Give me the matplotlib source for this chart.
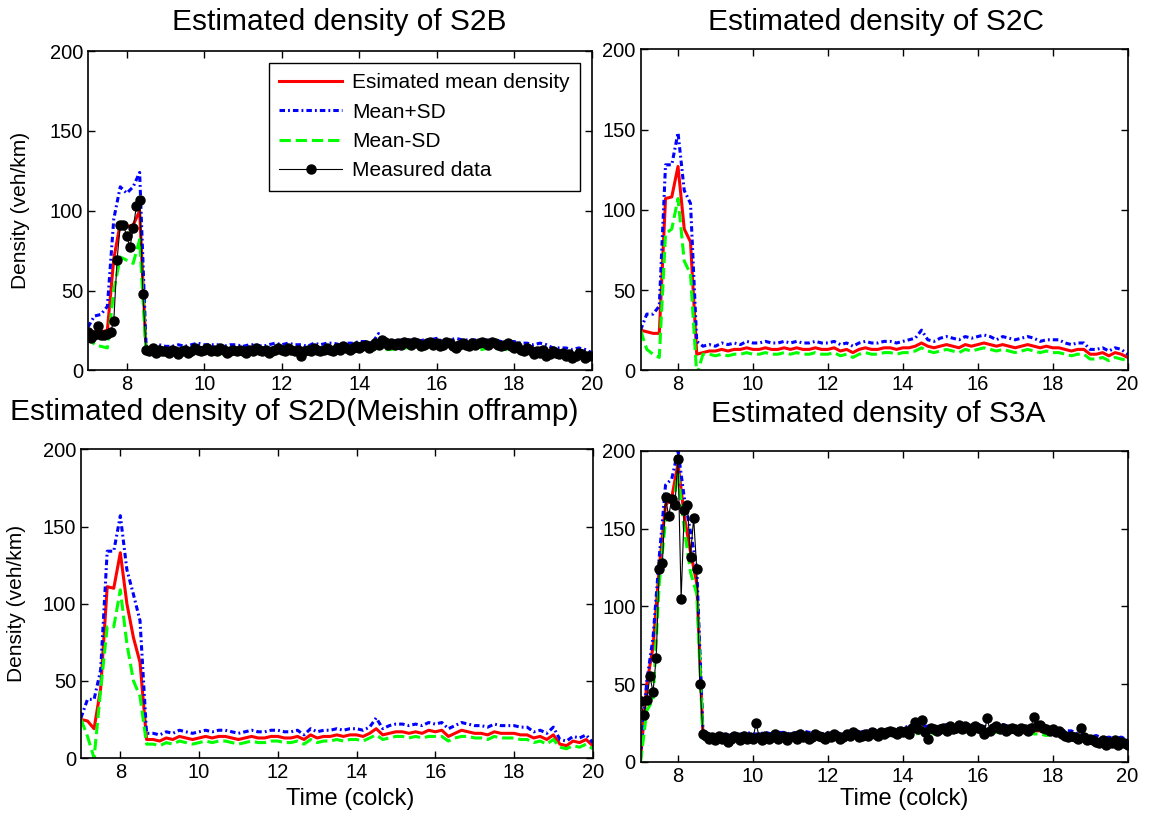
import numpy as np
import matplotlib
matplotlib.use('Agg')
import matplotlib.pyplot as plt

plt.rcParams['font.family'] = ['Liberation Sans', 'DejaVu Sans']

# time grids (clock hours): estimates every 10 min, measurements every 5 min
t_est = np.linspace(7, 20, 79)
t_meas = np.linspace(7, 20, 157)

# ---------------- S2B ----------------
s2b_mean = [25, 24, 24, 25, 70, 92, 90, 91, 100, 12,
            12, 13, 12, 12, 13, 12, 13, 14, 13, 13,
            13, 12, 13, 13, 12, 13, 13, 12, 13, 14,
            13, 14, 13, 13, 12, 14, 13, 14, 14, 13,
            14, 14, 15, 15, 14, 18, 15, 15, 16, 16,
            16, 15, 16, 16, 17, 15, 16, 17, 16, 16,
            16, 15, 16, 16, 15, 15, 15, 14, 14, 13,
            14, 13, 11, 11, 11, 10, 11, 10, 9]
s2b_upper = [27, 34, 35, 40, 95, 115, 111, 115, 124, 15,
             15, 16, 15, 15, 16, 15, 16, 17, 16, 16,
             16, 15, 16, 16, 15, 16, 16, 15, 16, 17,
             16, 17, 16, 16, 15, 17, 16, 17, 17, 16,
             17, 17, 18, 18, 17, 23, 18, 18, 19, 19,
             19, 18, 19, 19, 20, 18, 19, 20, 19, 19,
             19, 18, 19, 19, 18, 18, 18, 17, 17, 16,
             17, 16, 14, 14, 14, 13, 14, 13, 11]
s2b_lower = [22, 16, 15, 14, 50, 71, 69, 67, 82, 10,
             10, 11, 10, 10, 11, 10, 11, 12, 11, 11,
             11, 10, 11, 11, 10, 11, 11, 10, 11, 12,
             11, 12, 11, 11, 10, 12, 11, 12, 12, 11,
             12, 12, 13, 13, 12, 15, 13, 13, 14, 14,
             14, 13, 14, 14, 15, 13, 14, 15, 14, 14,
             14, 13, 14, 14, 13, 13, 13, 12, 12, 11,
             12, 11, 9, 9, 9, 8, 9, 8, 7]
s2b_meas = [24, 20, 22, 28, 22, 22, 23, 24, 31, 69, 91, 91, 84, 77, 89, 103, 107, 48, 13,
            12, 14, 11, 13, 12,
            12, 11, 13, 12, 10, 12, 13, 11, 12, 14, 13, 12,
            13, 14, 12, 13, 12, 14, 13, 11, 12, 13, 12, 13,
            12, 11, 13, 12, 14, 13, 12, 13, 11, 12, 13, 14,
            13, 12, 14, 13, 12, 13, 9, 12, 13, 12, 14, 13,
            12, 13, 14, 13, 12, 14, 13, 15, 14, 13, 14, 15,
            14, 15, 16, 14, 15, 17, 16, 19, 18, 16, 17, 16,
            17, 16, 18, 17, 16, 18, 17, 15, 16, 17, 18, 16,
            17, 15, 16, 18, 17, 15, 14, 16, 17, 16, 15, 17,
            16, 17, 18, 17, 16, 18, 17, 16, 15, 16, 17, 15,
            14, 15, 13, 12, 14, 13, 10, 12, 11, 13, 9, 10,
            12, 11, 10, 11, 9, 10, 8, 9, 11, 10, 8, 9,
            9]

# ---------------- S2C ----------------
s2c_mean = [25, 24, 23, 23, 107, 108, 127, 88, 80, 10,
            11, 12, 12, 13, 12, 13, 13, 14, 13, 13,
            14, 13, 13, 14, 13, 14, 13, 13, 14, 13,
            13, 14, 12, 13, 11, 13, 14, 13, 13, 14,
            14, 13, 14, 14, 15, 17, 15, 14, 15, 16,
            15, 14, 16, 15, 16, 17, 16, 15, 16, 15,
            14, 15, 16, 15, 14, 15, 14, 14, 13, 12,
            13, 13, 10, 10, 11, 9, 11, 10, 8]
s2c_upper = [25, 35, 35, 40, 128, 128, 148, 112, 104, 18,
             15, 16, 15, 17, 16, 17, 16, 18, 17, 17,
             18, 17, 17, 18, 17, 18, 17, 17, 18, 17,
             17, 18, 16, 17, 15, 17, 18, 17, 17, 18,
             18, 17, 18, 19, 20, 25, 19, 18, 20, 21,
             20, 19, 21, 20, 21, 22, 21, 19, 21, 20,
             19, 20, 21, 20, 18, 19, 19, 19, 17, 16,
             17, 17, 13, 13, 14, 12, 14, 13, 10]
s2c_lower = [25, 13, 10, 8, 85, 88, 107, 68, 60, -3,
             10, 10, 9, 10, 9, 10, 10, 11, 10, 10,
             11, 10, 10, 11, 10, 11, 10, 10, 11, 10,
             10, 11, 9, 10, 8, 10, 11, 10, 10, 11,
             11, 10, 11, 11, 12, 14, 12, 11, 12, 13,
             12, 11, 13, 12, 13, 14, 13, 12, 13, 12,
             11, 12, 13, 12, 11, 12, 11, 11, 10, 9,
             10, 10, 7, 7, 8, 6, 8, 7, 6]

# ---------------- S2D ----------------
s2d_mean = [25, 24, 19, 45, 111, 110, 133, 100, 78, 62,
            12, 12, 11, 13, 12, 14, 13, 12, 13, 14,
            13, 14, 14, 13, 12, 13, 14, 13, 13, 14,
            14, 13, 13, 14, 12, 15, 13, 14, 14, 15,
            14, 15, 15, 14, 16, 19, 15, 16, 17, 17,
            16, 17, 16, 18, 17, 18, 14, 16, 18, 17,
            16, 16, 15, 17, 16, 16, 16, 15, 15, 13,
            14, 12, 15, 9, 8, 11, 10, 12, 8]
s2d_upper = [26, 38, 38, 57, 134, 134, 157, 122, 106, 89,
             16, 16, 15, 17, 16, 18, 17, 16, 17, 18,
             17, 18, 18, 17, 16, 17, 18, 17, 17, 18,
             18, 17, 17, 18, 15, 19, 17, 18, 18, 19,
             18, 19, 19, 18, 20, 26, 19, 21, 22, 22,
             21, 22, 21, 23, 22, 23, 19, 21, 23, 22,
             21, 21, 20, 22, 21, 21, 21, 20, 20, 17,
             18, 16, 20, 12, 11, 14, 13, 15, 10]
s2d_lower = [25, 14, 0, 44, 85, 85, 109, 74, 50, 40,
             9, 9, 8, 10, 9, 11, 10, 9, 10, 11,
             10, 11, 11, 10, 9, 10, 11, 10, 10, 11,
             11, 10, 10, 11, 9, 12, 10, 11, 11, 12,
             11, 12, 12, 11, 13, 15, 12, 13, 14, 14,
             13, 14, 13, 14, 14, 14, 11, 13, 14, 14,
             13, 13, 12, 14, 13, 13, 13, 12, 12, 10,
             11, 9, 12, 7, 6, 8, 7, 9, 6]

# ---------------- S3A ----------------
s3a_mean = [2, 50, 74, 125, 165, 170, 192, 158, 135, 115,
            17, 16, 15, 16, 15, 16, 16, 17, 16, 16,
            17, 16, 17, 17, 16, 17, 18, 17, 17, 16,
            17, 17, 16, 17, 18, 17, 18, 18, 19, 18,
            19, 19, 20, 21, 20, 21, 21, 20, 21, 22,
            21, 22, 21, 22, 22, 21, 20, 21, 22, 21,
            21, 20, 21, 20, 20, 19, 20, 19, 18, 18,
            16, 15, 14, 15, 13, 14, 13, 14, 12]
s3a_upper = [3, 52, 80, 132, 178, 182, 200, 170, 148, 125,
             19, 18, 17, 18, 17, 18, 18, 19, 18, 18,
             19, 18, 19, 19, 18, 19, 20, 19, 19, 18,
             19, 19, 18, 19, 20, 19, 20, 20, 21, 20,
             21, 21, 22, 23, 22, 23, 23, 22, 23, 24,
             23, 24, 23, 24, 24, 23, 22, 23, 24, 23,
             23, 22, 23, 22, 22, 21, 22, 21, 20, 20,
             18, 17, 16, 17, 15, 16, 15, 16, 14]
s3a_lower = [0, 33, 40, 115, 155, 160, 185, 150, 122, 108,
             15, 14, 13, 14, 13, 14, 14, 15, 14, 14,
             15, 14, 15, 15, 14, 15, 16, 15, 15, 14,
             15, 15, 14, 15, 16, 15, 16, 16, 17, 16,
             17, 17, 18, 19, 18, 19, 19, 18, 19, 20,
             19, 20, 19, 20, 20, 19, 18, 19, 20, 19,
             19, 18, 19, 18, 18, 17, 18, 17, 16, 16,
             14, 13, 12, 13, 11, 12, 11, 12, 10]
s3a_meas = [39, 30, 40, 55, 45, 67, 124, 128, 170, 158, 169, 165, 195, 105, 162, 165, 132, 157, 124, 50, 18,
            17, 15, 16,
            14, 17, 15, 16, 13, 15, 17, 16, 14, 17, 15, 16,
            15, 25, 16, 14, 17, 15, 16, 18, 15, 16, 17, 14,
            16, 17, 15, 18, 16, 17, 15, 16, 18, 17, 16, 15,
            17, 16, 18, 17, 15, 16, 18, 17, 19, 18, 16, 17,
            18, 17, 19, 18, 17, 19, 18, 19, 20, 19, 18, 20,
            19, 20, 18, 22, 26, 21, 27, 19, 15, 22, 21, 20,
            21, 22, 20, 23, 21, 22, 24, 21, 23, 22, 20, 23,
            22, 21, 18, 28, 20, 22, 23, 21, 22, 20, 21, 22,
            21, 20, 22, 21, 20, 22, 29, 23, 24, 22, 21, 20,
            21, 19, 20, 18, 17, 16, 17, 16, 15, 22, 16, 14,
            15, 14, 13, 12, 14, 11, 13, 12, 14, 11, 13, 12,
            11]

titles = ['Estimated density of S2B', 'Estimated density of S2C',
          'Estimated density of S2D(Meishin offramp)', 'Estimated density of S3A']
legend_labels = ['Esimated mean density', 'Mean+SD', 'Mean-SD', 'Measured data']
x_ticks = [8, 10, 12, 14, 16, 18, 20]
y_ticks = [0, 50, 100, 150, 200]

W, H = 1150, 821
panels = [
    dict(pos=[0.0765, 0.549, 0.438, 0.3886], mean=s2b_mean, up=s2b_upper, lo=s2b_lower,
         meas=s2b_meas, ylabel=-0.115, xlabel=None, legend=True, tpos=(339, 22)),
    dict(pos=[0.557, 0.549, 0.4235, 0.391], mean=s2c_mean, up=s2c_upper, lo=s2c_lower,
         meas=None, ylabel=None, xlabel=None, legend=False, tpos=(876, 22)),
    dict(pos=[0.0704, 0.0767, 0.445, 0.376], mean=s2d_mean, up=s2d_upper, lo=s2d_lower,
         meas=None, ylabel=-0.108, xlabel=(0.527, -0.098), legend=False, tpos=(294, 412)),
    dict(pos=[0.557, 0.0719, 0.4235, 0.379], mean=s3a_mean, up=s3a_upper, lo=s3a_lower,
         meas=s3a_meas, ylabel=None, xlabel=(0.542, -0.085), legend=False, tpos=(878, 414)),
]

fig = plt.figure(figsize=(11.5, 8.21), dpi=100)
for p, title in zip(panels, titles):
    ax = fig.add_axes(p['pos'])
    ax.plot(t_est, p['mean'], color='red', lw=2.2, ls='-', label=legend_labels[0])
    ax.plot(t_est, p['up'], color='blue', lw=2.2, ls=(0, (1.8, 1.0, 0.6, 1.0)),
            label=legend_labels[1])
    ax.plot(t_est, p['lo'], color='#00ff00', lw=2.2, ls='--', label=legend_labels[2])
    if p['meas'] is not None:
        ax.plot(t_meas, p['meas'], color='black', lw=0.8, marker='o', ms=6.5,
                label=legend_labels[3])
    ax.set_xlim(7, 20)
    ax.set_ylim(0, 200)
    ax.set_xticks(x_ticks)
    ax.set_yticks(y_ticks)
    ax.tick_params(direction='in', top=True, right=True, labelsize=14.5, length=5, width=1)
    for s in ax.spines.values():
        s.set_linewidth(1.2)
    fig.text(p['tpos'][0] / W, 1 - p['tpos'][1] / H, title, fontsize=21.5,
             ha='center', va='center')
    if p['ylabel'] is not None:
        ax.set_ylabel('Density (veh/km)', fontsize=15)
        ax.yaxis.set_label_coords(p['ylabel'], 0.5)
    if p['xlabel'] is not None:
        ax.set_xlabel('Time (colck)', fontsize=17)
        ax.xaxis.set_label_coords(*p['xlabel'])
    if p['legend']:
        leg = ax.legend(loc='upper right', fontsize=15, fancybox=False, framealpha=1,
                        edgecolor='black', handlelength=3.0, handletextpad=0.5,
                        borderaxespad=0.55, labelspacing=0.5, borderpad=0.5)
        leg.get_frame().set_linewidth(1.0)

fig.savefig('out.png', dpi=100)
